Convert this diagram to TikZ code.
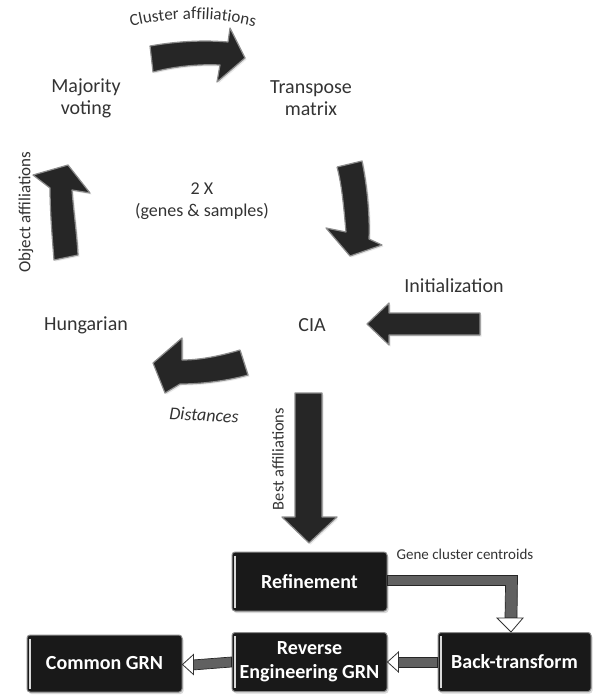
\documentclass[tikz,border=0pt]{standalone}
\usepackage{fontspec}
\setmainfont{Carlito}
\usetikzlibrary{calc,decorations.text,shadows}
\begin{document}
\begin{tikzpicture}[x=1pt,y=-1pt,
  lbl/.style={font=\fontsize{20}{22}\selectfont, text=black!80, align=center, inner sep=0pt},
  side/.style={font=\fontsize{17}{17}\selectfont, text=black!80, inner sep=0pt},
  bigarrow/.style={fill=black!85, draw=black!45, line width=1.2pt, line join=round,
    drop shadow={opacity=0.18, shadow xshift=1.5pt, shadow yshift=-1.5pt}},
  box/.style={fill=black!90, draw=black!45, line width=1pt, rounded corners=3pt,
    minimum width=155pt, minimum height=59pt, inner sep=0pt, text=white,
    font=\bfseries\fontsize{20}{24}\selectfont, align=center,
    drop shadow={opacity=0.3, shadow xshift=1.5pt, shadow yshift=-2pt}},
  thinbody/.style={fill=black!62, draw=black!85, line width=0.7pt},
  openhead/.style={fill=white, draw=black!80, line width=0.8pt, line join=miter}
]
\useasboundingbox (0,0) rectangle (592,696);

% ---------- cycle labels ----------
\node[lbl] (mv) at (86,98) {Majority\\voting};
\node[lbl] (tm) at (311,98) {Transpose\\matrix};
\node[lbl, font=\fontsize{18}{22}\selectfont] (gs) at (202,201) {2 X\\(genes \& samples)};
\node[lbl] (ini) at (454,286) {Initialization};
\node[lbl] (cia) at (312,325) {CIA};
\node[lbl] (hun) at (86,325) {Hungarian};

% ---------- curved / rotated side labels ----------
\path[decorate, decoration={text along path, text align=center,
  text={|\fontsize{17}{17}\selectfont\color{black!80}|Cluster affiliations}}]
  (126,28) .. controls (170,16) and (215,16) .. (260,28);
\node[side, font=\fontsize{18}{18}\selectfont\itshape, rotate=-3] (dist) at (204,415) {Distances};
\node[side, rotate=90] (oa) at (26,212) {Object affiliations};
\node[side, rotate=90, font=\fontsize{16.5}{17}\selectfont] (ba) at (278,459) {Best affiliations};
\node[side, font=\fontsize{15}{15}\selectfont] (gcc) at (465,554) {Gene cluster centroids};

% ---------- big 3D arrows ----------
% Majority voting -> Transpose matrix
\path[bigarrow] (150,46) .. controls (178,41) and (205,40) .. (228,42) -- (230,28) -- (245,58)
  -- (217,82) -- (220,65) .. controls (200,64) and (176,66) .. (153,72) -- cycle;
% Transpose matrix -> CIA
\path[bigarrow] (337,167) -- (362,161) .. controls (367,185) and (370,215) .. (369,239)
  -- (382,245) -- (350,256) -- (326,228) -- (346,232) .. controls (344,210) and (342,185) .. (337,167);
% Initialization -> CIA
\path[bigarrow] (480,313) -- (389,313) -- (389,303) -- (367,324) -- (389,345) -- (389,335) -- (480,335) -- cycle;
% CIA -> Hungarian
\path[bigarrow] (240,350) .. controls (220,356) and (200,360) .. (182,360) -- (182,338) -- (153,363)
  -- (165,393) -- (180,384) .. controls (205,384) and (230,380) .. (248,375) -- cycle;
% Hungarian -> Majority voting
\path[bigarrow] (54,260) .. controls (52,235) and (50,210) .. (50,188) -- (33,175) -- (68,165)
  -- (90,193) -- (72,190) .. controls (74,215) and (77,235) .. (78,255) -- cycle;
% CIA -> Refinement
\path[bigarrow] (295,393) -- (322,393) -- (322,517) -- (337,517) -- (309,543) -- (282,517) -- (295,517) -- cycle;

% ---------- boxes ----------
\node[box] (ref) at (309.5,581.5) {Refinement};
\node[box] (rev) at (309.5,662) {Reverse\\Engineering GRN};
\node[box, minimum width=153pt] (bt) at (514.5,662) {Back-transform};
\node[box, minimum height=57pt] (cg) at (104.5,663.5) {Common GRN};
\foreach \b in {ref,rev,bt,cg}{
  \draw[white!85!black, line width=1.6pt] ($(\b.north west)+(3.5,4)$) -- ($(\b.south west)+(3.5,-4)$);
}

% ---------- connectors ----------
% Refinement -> Back-transform
\path[thinbody] ($(ref.east)+(0,-6)$) -- ($(ref.east)+(130,-6)$) -- ($(bt.north)+(2.5,-14)$)
  -- ($(bt.north)+(-9.5,-14)$) -- ($(ref.east)+(118,4)$) -- ($(ref.east)+(0,4)$) -- cycle;
\path[openhead] ($(bt.north)+(-17.5,-14)$) -- ($(bt.north)+(8.5,-14)$) -- ($(bt.north)+(-3.5,0)$) -- cycle;
% Back-transform -> Reverse Engineering GRN
\path[thinbody] (bt.west) ++(0,-5) -- ($(rev.east)+(10,-5)$) -- ($(rev.east)+(10,5)$) -- ($(bt.west)+(0,5)$) -- cycle;
\path[openhead] ($(rev.east)+(11,-10)$) -- (rev.east) -- ($(rev.east)+(11,10)$) -- cycle;
% Reverse Engineering GRN -> Common GRN
\path[thinbody] ($(rev.west)+(0,-5)$) -- ($(cg.east)+(10,-3.5)$) -- ($(cg.east)+(10,6.5)$) -- ($(rev.west)+(0,5)$) -- cycle;
\path[openhead] ($(cg.east)+(11,-9)$) -- ($(cg.east)+(0,1)$) -- ($(cg.east)+(11,11)$) -- cycle;
\end{tikzpicture}
\end{document}
